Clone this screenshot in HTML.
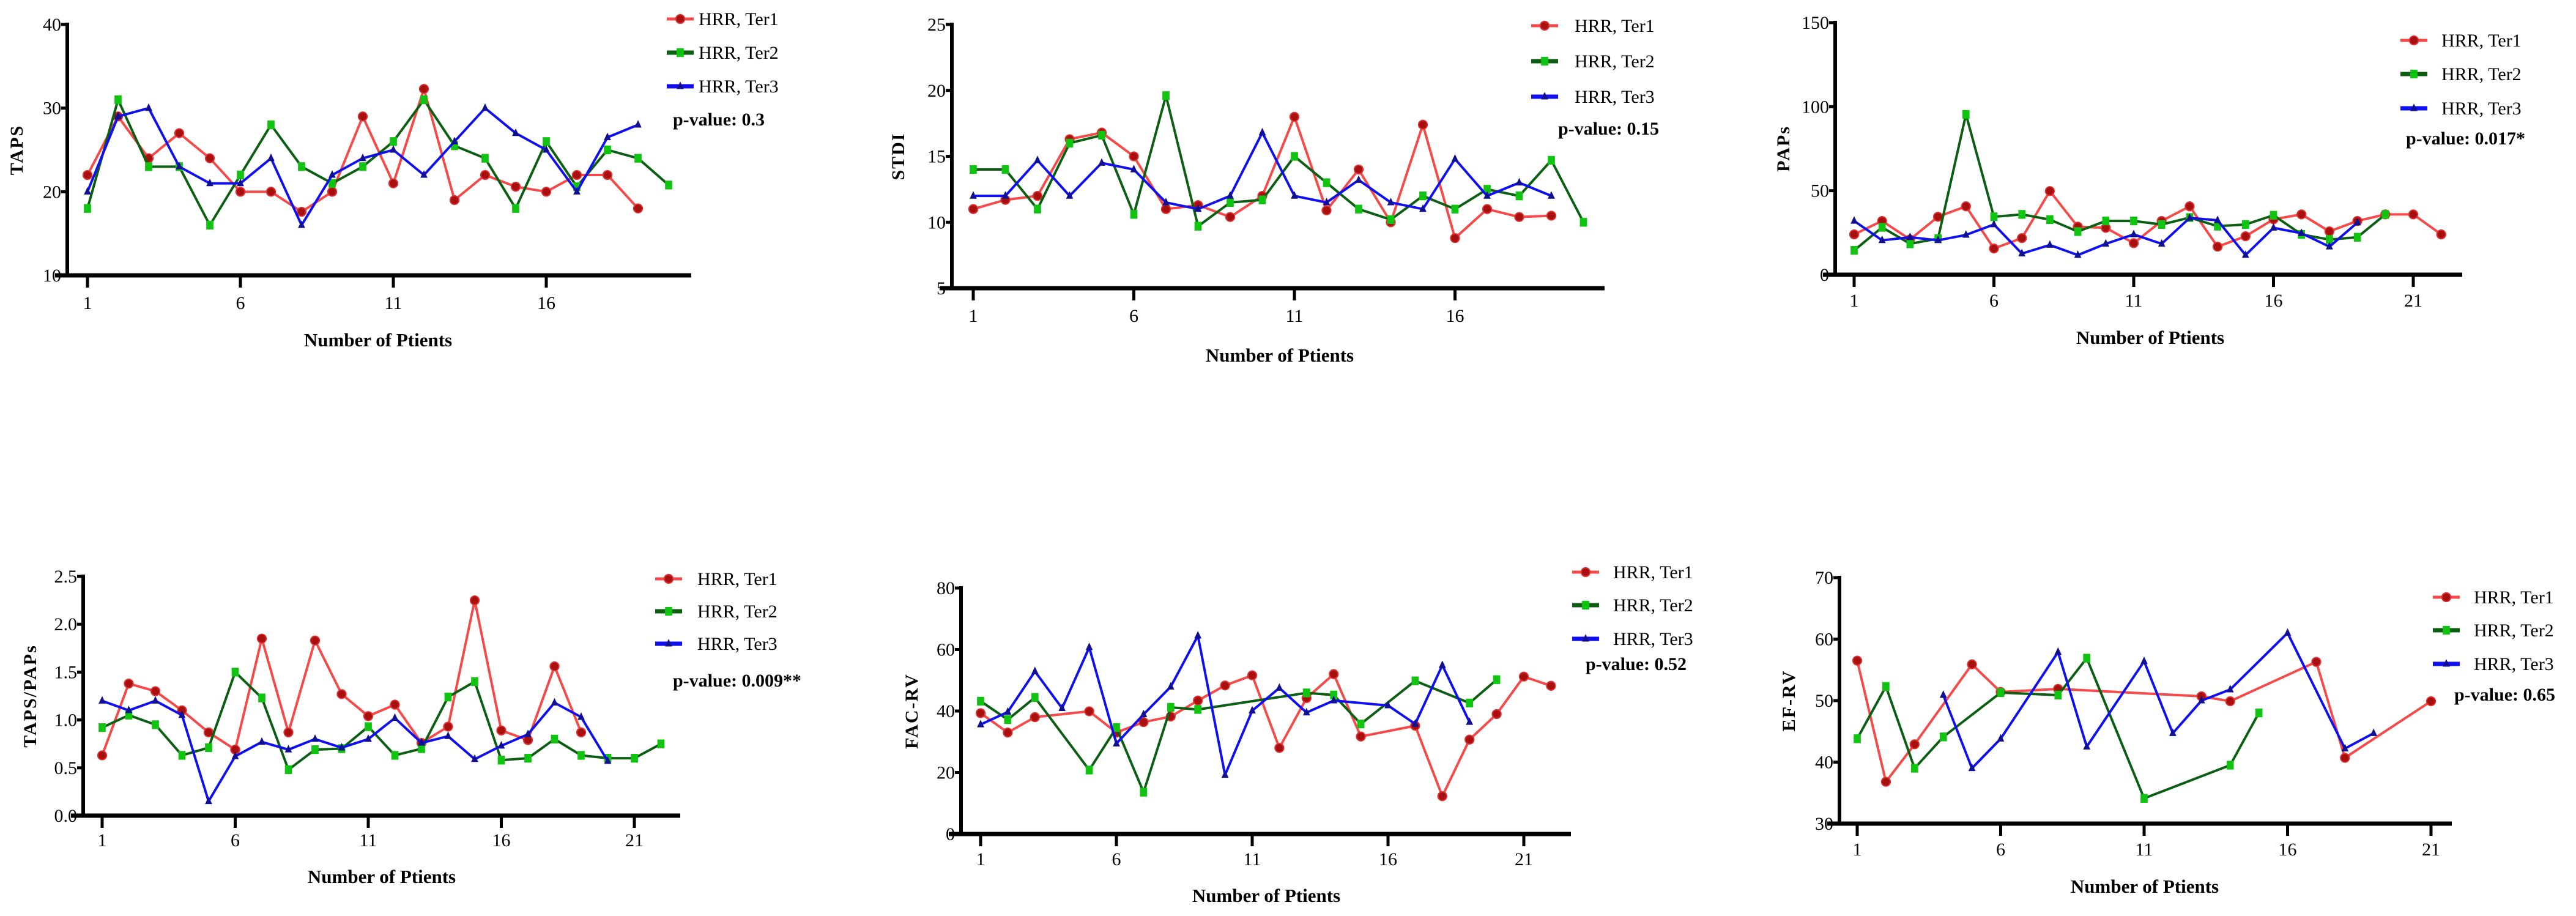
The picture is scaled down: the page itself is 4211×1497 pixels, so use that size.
<!DOCTYPE html>
<html><head><meta charset="utf-8">
<style>
html,body{margin:0;padding:0;background:#fff;}
svg{display:block;}
text{font-family:"Liberation Serif",serif;fill:#000;}
</style></head>
<body>
<svg id="fig" xmlns="http://www.w3.org/2000/svg" width="4211" height="1497" viewBox="0 0 4211 1497"></svg>
<script>
// ---- data (null = missing) ----
const tapsTer1 = [22,29,24,27,24,20,20,17.6,20,29,21,32.3,19,22,20.6,20,22,22,18];
const tapsTer2 = [18,31,23,23,16,22,28,23,21,23,26,31,25.5,24,18,26,20.6,25,24,20.8];
const tapsTer3 = [20,29,30,23,21,21,24,16,22,24,25,22,26,30,27,25,20,26.5,28];
const tapsYTicks = [10,20,30,40];

const stdiTer1 = [11,11.7,12,16.3,16.8,15,11,11.3,10.4,12,18,10.9,14,10,17.4,8.8,11,10.4,10.5];
const stdiTer2 = [14,14,11,16,16.6,10.6,19.6,9.7,11.5,11.7,15,13,11,10.2,12,11,12.5,12,14.7,10];
const stdiTer3 = [12,12,14.7,12,14.5,14,11.5,11,12,16.8,12,11.5,13.2,11.5,11,14.8,12,13,12];
const stdiYTicks = [5,10,15,20,25];

const papsTer1 = [24,32,21,34.5,40.7,15.6,21.8,49.8,28.6,27.9,18.8,32,40.7,16.7,22.9,33,35.9,25.8,32,35.9,35.9,24];
const papsTer2 = [14.5,28.2,18.4,21.5,95.4,34.5,35.9,32.8,25.7,32,32,29.9,34,28.9,29.9,35.4,24,20.9,22.3,35.9];
const papsTer3 = [32,20.5,22.3,20.5,23.7,29.9,12.6,17.7,11.7,18.4,24,18.4,33.8,32.4,11.7,27.9,24.7,16.7,31];
const papsYTicks = [0,50,100,150];

const ratioTer1 = [0.63,1.38,1.3,1.1,0.87,0.69,1.85,0.87,1.83,1.27,1.04,1.16,0.76,0.93,2.25,0.89,0.79,1.56,0.87];
const ratioTer2 = [0.92,1.05,0.95,0.63,0.71,1.5,1.23,0.48,0.69,0.7,0.93,0.63,0.7,1.24,1.4,0.58,0.6,0.8,0.63,0.6,0.6,0.75];
const ratioTer3 = [1.2,1.1,1.2,1.05,0.15,0.62,0.77,0.69,0.8,0.71,0.8,1.02,0.76,0.83,0.59,0.73,0.85,1.18,1.03,0.57];
const ratioYTicks = [0,0.5,1,1.5,2,2.5];

const facTer1 = [39.3,33,38,null,39.9,33,36.4,38.2,43.4,48.3,51.6,28,44.2,52,31.7,null,35.2,12.3,30.7,39,51.2,48.2];
const facTer2 = [43.2,37.2,44.4,null,20.8,34.6,13.6,41.2,40.5,null,null,null,45.9,45.2,35.8,null,49.8,null,42.6,50.2];
const facTer3 = [35.6,39.7,52.9,40.9,60.7,29.4,38.9,47.9,64.5,19.2,40.1,47.5,39.5,43.4,null,41.8,35.8,54.9,36.4];
const facYTicks = [0,20,40,60,80];

const efTer1 = [56.5,36.8,42.9,null,55.9,51.4,null,51.9,null,null,null,null,50.7,49.9,null,null,56.3,40.7,null,null,49.9];
const efTer2 = [43.8,52.3,39,44.1,null,51.3,null,50.9,56.9,null,34.1,null,null,39.5,48];
const efTer3 = [null,null,null,50.9,39,43.8,null,57.9,42.5,null,56.4,44.7,50,51.8,null,61,null,42.2,44.7];
const efYTicks = [30,40,50,60,70];

const xTicksA = [1,6,11,16];
const xTicksB = [1,6,11,16,21];
const seriesNames = ["HRR, Ter1","HRR, Ter2","HRR, Ter3"];

// ---- layout ----
const panels = [
 {id:"taps", yTitle:"TAPS", p:"p-value: 0.3", s:[tapsTer1,tapsTer2,tapsTer3], yt:tapsYTicks, xt:xTicksA, dec:0,
  ax:110, top:40, bot:450, xEnd:1130, x1:143, step:50, ytx:26, lmx:1090, ltx:1142, rows:[31,86,141], px:1100, py:195, tly:494, tty:555, ttx:618},
 {id:"stdi", yTitle:"STDI", p:"p-value: 0.15", s:[stdiTer1,stdiTer2,stdiTer3], yt:stdiYTicks, xt:xTicksA, dec:0,
  ax:1556, top:40, bot:471, xEnd:2623, x1:1591, step:52.5, ytx:1467, lmx:2503, ltx:2574, rows:[42,100,158], px:2547, py:210, tly:515, tty:580, ttx:2092},
 {id:"paps", yTitle:"PAPs", p:"p-value: 0.017*", s:[papsTer1,papsTer2,papsTer3], yt:papsYTicks, xt:xTicksB, dec:0,
  ax:3000, top:37, bot:449, xEnd:4025, x1:3031, step:45.7, ytx:2914, lmx:3924, ltx:3991, rows:[66,121,177], px:3933, py:226, tly:490, tty:551, ttx:3515},
 {id:"taps-paps", yTitle:"TAPS/PAPs", p:"p-value: 0.009**", s:[ratioTer1,ratioTer2,ratioTer3], yt:ratioYTicks, xt:xTicksB, dec:1,
  ax:136, top:942, bot:1333, xEnd:1112, x1:167, step:43.5, ytx:48, lmx:1071, ltx:1140, rows:[946,999,1052], px:1100, py:1112, tly:1372, tty:1432, ttx:624},
 {id:"fac-rv", yTitle:"FAC-RV", p:"p-value: 0.52", s:[facTer1,facTer2,facTer3], yt:facYTicks, xt:xTicksB, dec:0,
  ax:1571, top:961, bot:1363, xEnd:2568, x1:1603, step:44.4, ytx:1489, lmx:2570, ltx:2637, rows:[935,989,1044], px:2592, py:1085, tly:1403, tty:1463, ttx:2070},
 {id:"ef-rv", yTitle:"EF-RV", p:"p-value: 0.65", s:[efTer1,efTer2,efTer3], yt:efYTicks, xt:xTicksB, dec:0,
  ax:3007, top:944, bot:1346, xEnd:4008, x1:3036, step:46.9, ytx:2923, lmx:3977, ltx:4044, rows:[976,1030,1085], px:4012, py:1135, tly:1387, tty:1448, ttx:3506}
];
const lineCol = ["#f44a4a","#0b5e12","#1010ee"];
const markCol = ["#a80f0f","#11c411","#101090"];
const NS = "http://www.w3.org/2000/svg";
const svg = document.getElementById("fig");
function mk(tag, attrs, parent){
  const e = document.createElementNS(NS, tag);
  for (const k in attrs) e.setAttribute(k, attrs[k]);
  (parent||svg).appendChild(e);
  return e;
}
function marker(g, k, x, y, size){
  let m;
  if (k===0) m = mk("circle",{cx:x,cy:y,r:size*0.55,fill:markCol[0],stroke:"#d33",'stroke-width':2},g);
  else if (k===1) m = mk("rect",{x:x-size*0.45,y:y-size*0.55,width:size*0.9,height:size*1.1,fill:markCol[1]},g);
  else m = mk("path",{d:`M${x},${y-size*0.6}L${x+size*0.45},${y+size*0.35}L${x-size*0.45},${y+size*0.35}Z`,fill:markCol[2]},g);
  return m;
}
panels.forEach(P=>{
  const g = mk("g",{});
  
  
  const yMin = P.yt[0], yMax = P.yt[P.yt.length-1];
  const Y = v => P.bot - (v - yMin)/(yMax - yMin)*(P.bot - P.top);
  const X = i => P.x1 + i*P.step;
  // series
  P.s.forEach((arr,k)=>{
    const sg = mk("g",{},g);
    
    
    const pts = [];
    arr.forEach((v,i)=>{ if(v!==null) pts.push([X(i),Y(v)]); });
    const pl = mk("polyline",{points:pts.map(p=>p.join(",")).join(" "),fill:"none",stroke:lineCol[k],'stroke-width':4,'stroke-linejoin':"round"},sg);
    
    
    pts.forEach(p=>{
      const m = marker(sg,k,p[0],p[1],13);
      
      
    });
  });
  // axes
  const ya = mk("line",{x1:P.ax,y1:P.top-3,x2:P.ax,y2:P.bot+3,stroke:"#000",'stroke-width':6},g);
  
  
  const xa = mk("line",{x1:P.ax-20,y1:P.bot,x2:P.xEnd,y2:P.bot,stroke:"#000",'stroke-width':7},g);
  
  
  P.yt.forEach(v=>{
    mk("line",{x1:P.ax-10,y1:Y(v),x2:P.ax,y2:Y(v),stroke:"#000",'stroke-width':5},g);
    const t = mk("text",{x:P.ax-10,y:Y(v)+10,'text-anchor':"end",'font-size':30},g);
    t.textContent = v.toFixed(P.dec);
    
    
  });
  P.xt.forEach(n=>{
    mk("line",{x1:X(n-1),y1:P.bot,x2:X(n-1),y2:P.bot+20,stroke:"#000",'stroke-width':5},g);
    const t = mk("text",{x:X(n-1),y:P.tly+11,'text-anchor':"middle",'font-size':30},g);
    t.textContent = n;
    
    
  });
  const xt = mk("text",{x:P.ttx,y:P.tty+11,'text-anchor':"middle",'font-size':31,'font-weight':"bold"},g);
  xt.textContent = "Number of Ptients";
  
  
  const yc = (P.top+P.bot)/2;
  const yt = mk("text",{x:P.ytx,y:yc,'text-anchor':"middle",'font-size':30,'font-weight':"bold",'letter-spacing':2,transform:`rotate(-90 ${P.ytx} ${yc}) translate(0 11)`},g);
  yt.textContent = P.yTitle;
  
  
  // legend
  seriesNames.forEach((nm,k)=>{
    const lg = mk("g",{},g);
    
    
    const ry = P.rows[k];
    mk("line",{x1:P.lmx,y1:ry,x2:P.lmx+44,y2:ry,stroke:lineCol[k],'stroke-width':k===0?5:7},lg);
    marker(lg,k,P.lmx+22,ry,13);
    const t = mk("text",{x:P.ltx,y:ry+10,'font-size':30},lg);
    t.textContent = nm;
  });
  const pv = mk("text",{x:P.px,y:P.py+10,'font-size':30,'font-weight':"bold"},g);
  pv.textContent = P.p;
  
  
});
</script>
</body></html>
